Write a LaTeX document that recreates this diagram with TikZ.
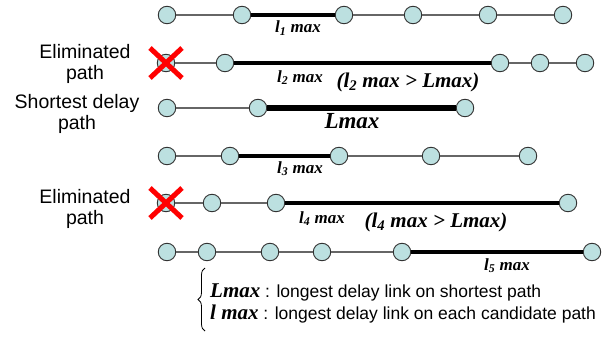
\documentclass[tikz,border=0pt]{standalone}
\usepackage{fontspec}
\setmainfont{Liberation Sans}
\newfontfamily\tms{Liberation Serif}
\usetikzlibrary{decorations.pathreplacing}
\definecolor{hopfill}{HTML}{BCE0E0}
\newcommand{\mx}[1]{{\tms\bfseries\itshape #1}}
\begin{document}
\begin{tikzpicture}[x=1pt,y=-1pt,
  hop/.style={circle,draw=black!80,fill=hopfill,minimum size=17.5pt,inner sep=0pt,line width=0.9pt},
  link/.style={draw=black!60,line width=1.1pt},
  maxlink/.style={draw=black,line width=3.5pt},
  shortlink/.style={draw=black,line width=6pt},
  lab/.style={font=\tms\bfseries\itshape\fontsize{17}{20}\selectfont,anchor=base,inner sep=0pt},
  cmp/.style={font=\tms\bfseries\itshape\fontsize{21}{24}\selectfont,anchor=base,inner sep=0pt},
  side/.style={font=\fontsize{19.5}{22}\selectfont,anchor=base,inner sep=0pt},
  key/.style={font=\fontsize{17.5}{21}\selectfont,anchor=base west,inner sep=0pt},
  kill/.style={draw=red,line width=5pt}
]
\path[use as bounding box] (0,0) rectangle (613,337);

% captions on the left
\node[side] (e1a) at (85,59) {Eliminated};
\node[side] (e1b) at (85,80) {path};
\node[side] (sa) at (77,108) {Shortest delay};
\node[side] (sb) at (77,129) {path};
\node[side] (e2a) at (85,203) {Eliminated};
\node[side] (e2b) at (85,224) {path};

% path 1
\foreach \n/\x in {1/167,2/242,3/344,4/413,5/488,6/563}
  \node[hop] (a\n) at (\x,15) {};
\draw[link] (a1) -- (a2);
\draw[maxlink] (a2) -- (a3);
\draw[link] (a3) -- (a4) (a4) -- (a5) (a5) -- (a6);
\node[lab] (l1) at (298,33) {l\textsubscript{1} max};

% path 2 (eliminated)
\foreach \n/\x in {1/166,2/225,3/500,4/540,5/585}
  \node[hop] (b\n) at (\x,63) {};
\draw[link] (b1) -- (b2);
\draw[maxlink] (b2) -- (b3);
\draw[link] (b3) -- (b4) (b4) -- (b5);
\node[lab] (l2) at (300,82) {l\textsubscript{2} max};
\node[cmp] (c2) at (408,87) {(l\textsubscript{2} max > Lmax)};
\draw[kill] ([shift={(-16,-15)}]b1.center) -- ([shift={(16,15)}]b1.center);
\draw[kill] ([shift={(16,-15)}]b1.center) -- ([shift={(-16,15)}]b1.center);

% shortest delay path
\foreach \n/\x in {1/167,2/258,3/465}
  \node[hop] (s\n) at (\x,108) {};
\draw[link] (s1) -- (s2);
\draw[shortlink] (s2) -- (s3);
\node[cmp,font=\tms\bfseries\itshape\fontsize{23}{26}\selectfont] (lm) at (352,128) {Lmax};

% path 3
\foreach \n/\x in {1/167,2/230,3/339,4/431,5/528}
  \node[hop] (d\n) at (\x,156) {};
\draw[link] (d1) -- (d2);
\draw[maxlink] (d2) -- (d3);
\draw[link] (d3) -- (d4) (d4) -- (d5);
\node[lab] (l3) at (300,173) {l\textsubscript{3} max};

% path 4 (eliminated)
\foreach \n/\x in {1/166,2/212,3/276,4/568}
  \node[hop] (e\n) at (\x,203) {};
\draw[link] (e1) -- (e2) (e2) -- (e3);
\draw[maxlink] (e3) -- (e4);
\node[lab] (l4) at (322,223) {l\textsubscript{4} max};
\node[cmp] (c4) at (436,227) {(l\textsubscript{4} max > Lmax)};
\draw[kill] ([shift={(-16,-15)}]e1.center) -- ([shift={(16,15)}]e1.center);
\draw[kill] ([shift={(16,-15)}]e1.center) -- ([shift={(-16,15)}]e1.center);

% path 5
\foreach \n/\x in {1/167,2/207,3/270,4/322,5/402,6/592}
  \node[hop] (f\n) at (\x,252) {};
\draw[link] (f1) -- (f2) (f2) -- (f3) (f3) -- (f4) (f4) -- (f5);
\draw[maxlink] (f5) -- (f6);
\node[lab] (l5) at (507,270) {l\textsubscript{5} max};

% legend
\draw[decorate,decoration={brace,amplitude=7pt},line width=0.8pt] (205,331) -- (205,268);
\node[key] (k1) at (210,297) {{\tms\bfseries\itshape\fontsize{21}{24}\selectfont Lmax} : longest delay link on shortest path};
\node[key] (k2) at (210,319) {{\tms\bfseries\itshape\fontsize{21}{24}\selectfont l max} : longest delay link on each candidate path};
\end{tikzpicture}
\end{document}
